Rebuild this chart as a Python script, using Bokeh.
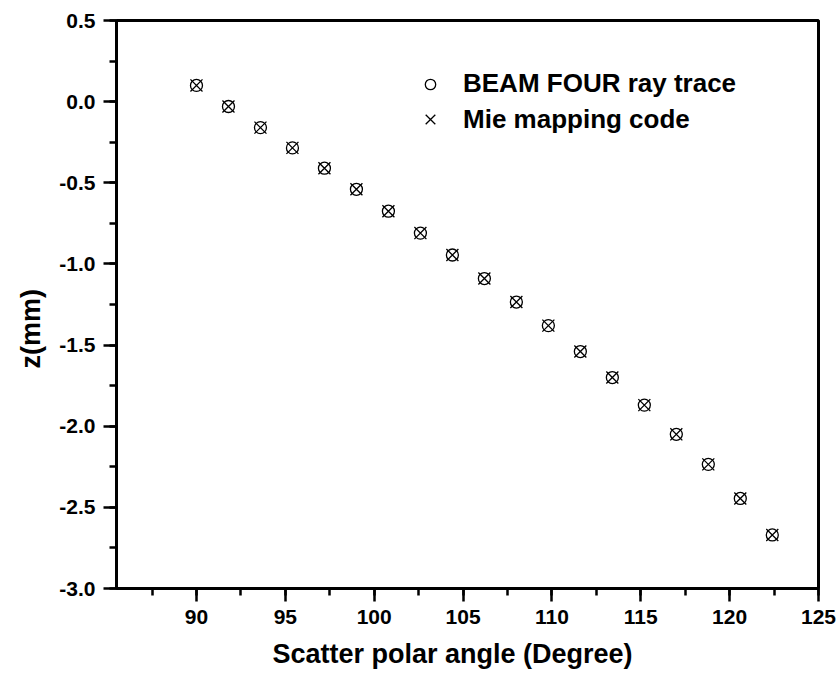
from bokeh.plotting import figure
from bokeh.models import (Range1d, SingleIntervalTicker, PrintfTickFormatter,
                          Legend, LegendItem, ColumnDataSource, Title)
from bokeh.embed import file_html
from bokeh.resources import INLINE

# Data
angle = [90.0, 91.8, 93.6, 95.4, 97.2, 99.0, 100.8, 102.6, 104.4, 106.2,
         108.0, 109.8, 111.6, 113.4, 115.2, 117.0, 118.8, 120.6, 122.4]
z_beam_four = [0.10, -0.03, -0.16, -0.285, -0.41, -0.54, -0.675, -0.81, -0.945,
               -1.09, -1.235, -1.38, -1.54, -1.70, -1.87, -2.05, -2.235, -2.445, -2.67]
z_mie = [0.10, -0.03, -0.16, -0.285, -0.41, -0.54, -0.675, -0.81, -0.945,
         -1.09, -1.235, -1.38, -1.54, -1.70, -1.87, -2.05, -2.235, -2.445, -2.67]
series_labels = ["BEAM FOUR ray trace", "Mie mapping code"]
x_title = "Scatter polar angle (Degree)"
y_title = "z(mm)"

FONT = "Liberation Sans"

p = figure(width=840, height=681, output_backend="svg", toolbar_location=None,
           x_range=Range1d(85.5, 125), y_range=Range1d(-3.0, 0.5),
           min_border_left=116, min_border_right=22, min_border_top=20,
           min_border_bottom=93)
p.background_fill_color = "white"
p.border_fill_color = "white"
p.grid.visible = False
p.outline_line_color = "black"
p.outline_line_width = 3

src1 = ColumnDataSource(dict(x=angle, y=z_beam_four))
src2 = ColumnDataSource(dict(x=angle, y=z_mie))
r1 = p.scatter("x", "y", source=src1, marker="circle", size=12,
               fill_color=None, line_color="black", line_width=1.3)
r2 = p.scatter("x", "y", source=src2, marker="x", size=17,
               line_color="black", line_width=1.3)

p.xaxis.ticker = SingleIntervalTicker(interval=5, num_minor_ticks=2)
p.yaxis.ticker = SingleIntervalTicker(interval=0.5, num_minor_ticks=2)
p.yaxis.formatter = PrintfTickFormatter(format="%.1f")

for ax in (p.xaxis[0], p.yaxis[0]):
    ax.axis_line_width = 3
    ax.axis_line_color = "black"
    ax.major_tick_line_width = 2.5
    ax.minor_tick_line_width = 2.5
    ax.major_tick_out = 13
    ax.major_tick_in = 0
    ax.minor_tick_out = 7
    ax.minor_tick_in = 0
    ax.major_label_text_font = FONT
    ax.major_label_text_font_style = "bold"
    ax.major_label_text_font_size = "21px"
    ax.major_label_text_color = "black"
    ax.major_label_standoff = 8

xt = Title(text=x_title, align="left", offset=156, standoff=20,
           text_font=FONT, text_font_style="bold", text_font_size="27px",
           text_color="black")
p.add_layout(xt, "below")
yt = Title(text=y_title, align="left", offset=220, standoff=21,
           text_font=FONT, text_font_style="bold", text_font_size="27px",
           text_color="black")
p.add_layout(yt, "left")

common = dict(padding=0, margin=0, spacing=0, border_line_color=None,
              background_fill_alpha=0, label_text_font=FONT,
              label_text_font_style="bold", label_text_font_size="26px",
              label_text_color="black", label_height=26)
legend1 = Legend(items=[LegendItem(label=series_labels[0], renderers=[r1])],
                 location=(301, 489), glyph_width=26, glyph_height=26,
                 label_standoff=20, **common)
legend2 = Legend(items=[LegendItem(label=series_labels[1], renderers=[r2])],
                 location=(297, 452), glyph_width=34, glyph_height=34,
                 label_standoff=16, **common)
p.add_layout(legend1)
p.add_layout(legend2)

open("out.html", "w").write(file_html(p, INLINE))
